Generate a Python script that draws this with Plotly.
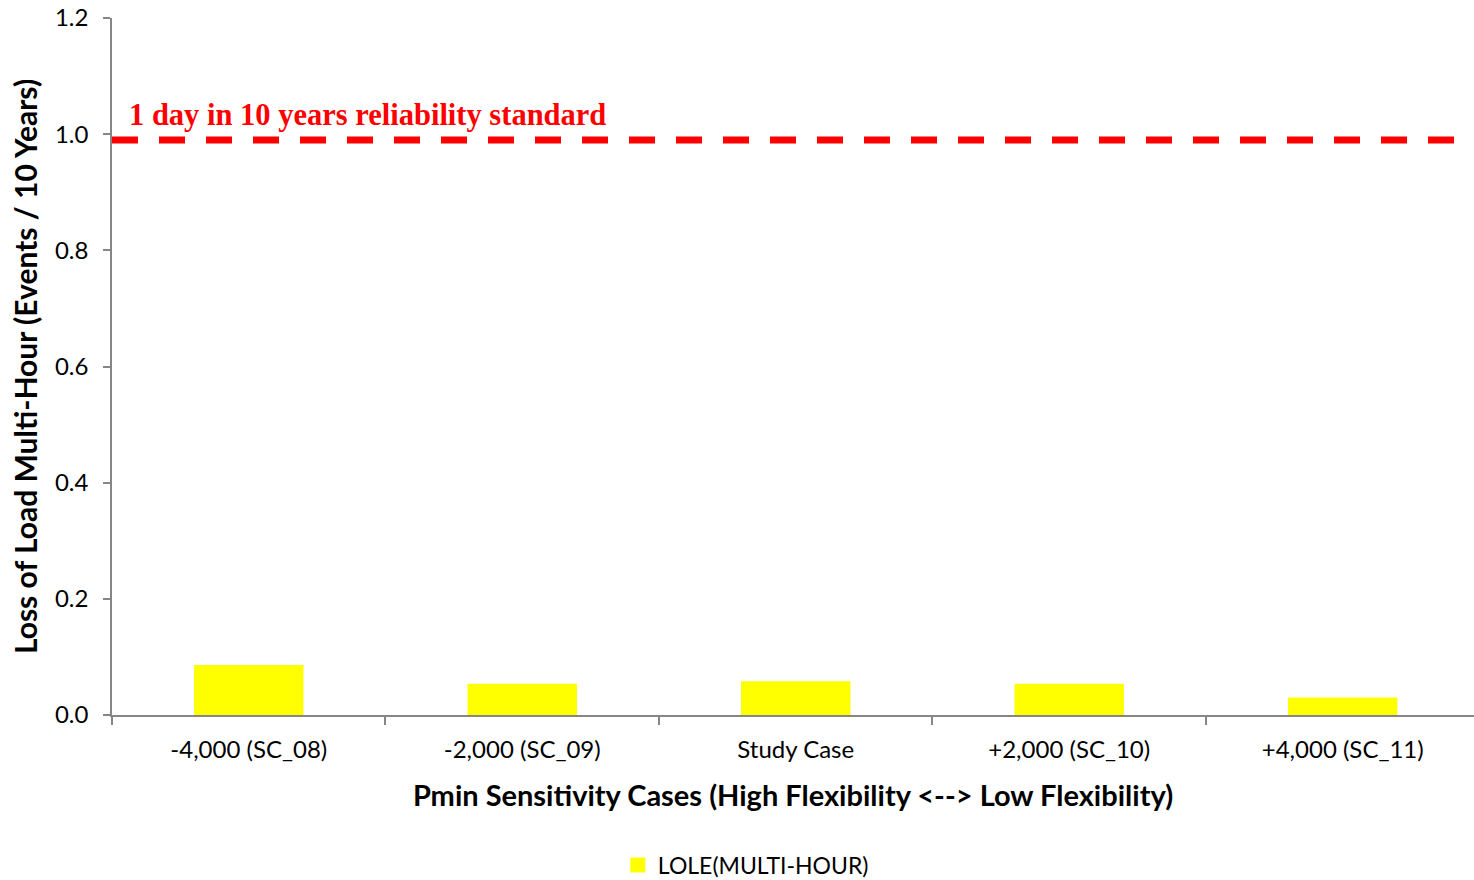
import plotly.graph_objects as go

# Pmin sensitivity cases and their multi-hour LOLE
cases = ["-4,000 (SC_08)", "-2,000 (SC_09)", "Study Case", "+2,000 (SC_10)", "+4,000 (SC_11)"]
lole_multi_hour = [0.086, 0.054, 0.058, 0.054, 0.030]
reliability_standard = 0.99
y_ticks = [0.0, 0.2, 0.4, 0.6, 0.8, 1.0, 1.2]

FONT = "Lato"
AXIS_GREY = "#868686"
BAR_YELLOW = "#FFFF00"

fig = go.Figure()

fig.add_trace(go.Bar(
    x=cases,
    y=lole_multi_hour,
    name="LOLE(MULTI-HOUR)",
    marker=dict(color=BAR_YELLOW, line=dict(width=0)),
    showlegend=False,
))

# legend entry with a larger square swatch
fig.add_trace(go.Scatter(
    x=[None], y=[None], mode="markers", name="LOLE(MULTI-HOUR)",
    marker=dict(symbol="square", size=15, color=BAR_YELLOW),
))

# reliability standard threshold
fig.add_shape(
    type="line", xref="paper", yref="y",
    x0=0, x1=1, y0=reliability_standard, y1=reliability_standard,
    line=dict(color="#FF0000", width=7, dash="26px,21px"),
)
fig.add_annotation(
    xref="paper", yref="y", x=0.011, y=reliability_standard,
    xanchor="left", yanchor="bottom", yshift=6,
    text="<b>1 day in 10 years reliability standard</b>", showarrow=False,
    font=dict(family="Liberation Serif", size=30.5, color="#FF0000"),
)

fig.update_layout(
    width=1474, height=880,
    margin=dict(l=112, r=0, t=18, b=165),
    paper_bgcolor="white", plot_bgcolor="white",
    bargap=0.6,
    showlegend=True,
    legend=dict(
        orientation="h",
        xref="container", x=0.506, xanchor="center",
        yref="container", y=0.017, yanchor="middle",
        font=dict(family=FONT, size=23, color="#000000"),
        itemwidth=30,
    ),
    xaxis=dict(
        type="category",
        range=[-0.5, 4.48],
        tickson="boundaries",
        ticks="outside", ticklen=8, tickcolor=AXIS_GREY, tickwidth=1.5,
        showline=True, linecolor=AXIS_GREY, linewidth=1.5,
        showgrid=False, zeroline=False,
        tickfont=dict(family=FONT, size=24, color="#000000"),
        ticklabelstandoff=12,
        title=dict(text="<b>Pmin Sensitivity Cases (High Flexibility <--> Low Flexibility)</b>",
                   font=dict(family=FONT, size=29, color="#000000"), standoff=24),
    ),
    yaxis=dict(
        range=[0, 1.2],
        tickmode="array", tickvals=y_ticks, ticktext=[f"{v:.1f}" for v in y_ticks],
        ticks="outside", ticklen=7, tickcolor=AXIS_GREY, tickwidth=1.5,
        showline=True, linecolor=AXIS_GREY, linewidth=1.5,
        showgrid=False, zeroline=False,
        tickfont=dict(family=FONT, size=24, color="#000000"),
        ticklabelstandoff=10,
        title=dict(text="<b>Loss of Load Multi-Hour (Events / 10 Years)</b>",
                   font=dict(family=FONT, size=30, color="#000000"), standoff=8),
    ),
)

fig.write_html("out.html")
